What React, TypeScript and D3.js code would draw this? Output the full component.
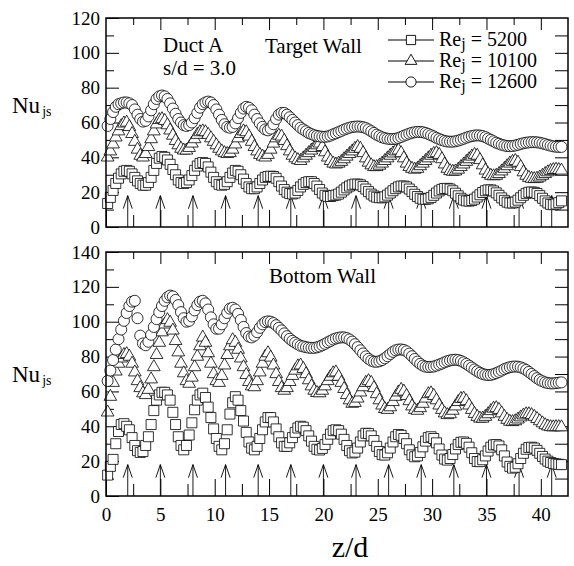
import React, { useEffect, useRef } from 'react';
import * as d3 from 'd3';

// measurement stations: z/d = 0.15, 0.40, ... 41.90 (step 0.25)
const zStart = 0.15;
const zStep = 0.25;

// Target wall, Nu_js
const targetRe5200 = [
  13.5, 17, 21, 25, 28, 30.5, 32, 32.5, 32, 30.5, 28.5, 26.5,
  25, 24, 24, 25.5, 28.5, 32.5, 36.5, 39.5, 40.5, 40, 38.5, 36,
  33, 30, 27, 25.5, 25, 25.5, 27, 29.5, 32.5, 35, 36.5, 37,
  36.5, 34.5, 31.5, 28.5, 26, 24.5, 24, 24.5, 26, 28.5, 31, 32.5,
  32, 30, 27.5, 25, 23, 22, 22, 23, 25, 27, 28.5, 29,
  29.2, 29, 28, 26, 23.5, 21.5, 20, 19.2, 19, 19.5, 21, 23,
  24.5, 25.5, 26, 26, 25, 23.5, 21.5, 19.5, 18.2, 17.6, 17.5, 18,
  18.3, 18.9, 20, 21.3, 22.5, 23.5, 24.2, 24.6, 24.6, 24.2, 23.2, 21.8,
  20.3, 18.9, 17.8, 17.1, 16.8, 16.8, 17.3, 18.3, 19.5, 20.8, 22, 23,
  23.5, 23.5, 23, 21.8, 20.3, 18.8, 17.5, 16.5, 16, 15.9, 16.2, 17,
  18.2, 19.5, 20.7, 21.6, 22.1, 22.2, 21.8, 20.8, 19.4, 17.9, 16.5, 15.5,
  15, 14.9, 15.2, 16, 17.2, 18.5, 19.8, 20.8, 21.3, 21.3, 20.7, 19.6,
  18.2, 16.7, 15.3, 14.3, 13.8, 13.8, 14.3, 15.4, 16.8, 18.2, 19.3, 19.9,
  20.1, 19.9, 19.2, 18, 16.5, 15, 13.8, 13, 12.8, 13.2, 14, 15,
];
const targetRe10100 = [
  40, 43.5, 47.5, 51.5, 55, 58, 59.5, 60, 57.5, 53.5, 49, 44.5,
  41, 40, 42, 46, 50.5, 55, 59, 61.5, 62, 61, 58.5, 55.5,
  52.5, 49.5, 47, 45, 44, 44, 45.5, 48, 50.5, 53, 54.5, 55,
  54.5, 53, 51, 49, 47, 45, 43.5, 42.5, 42, 42.5, 44.5, 47.5,
  51, 53.5, 55, 54.5, 52, 49, 46, 43.5, 41.5, 40.5, 40, 41.5,
  44.5, 48, 51, 52.5, 52, 49.5, 46.5, 43.5, 41, 39.5, 38.5, 38,
  39.5, 41, 42.5, 44, 45.5, 47, 48, 46, 43, 40, 38, 36.5,
  36, 36.5, 37.5, 39, 40.5, 42, 43.5, 45, 46, 45, 42.5, 39.5,
  37, 35.5, 34.5, 34.5, 35.3, 36.5, 38, 39.5, 41, 42.3, 43.5, 44,
  42.5, 39.5, 36.5, 34.5, 33.5, 33, 33.5, 35, 36.5, 38, 39.5, 41,
  42, 42.5, 41.5, 39, 36, 33.5, 32.2, 31.8, 32, 33, 34.5, 36,
  37.5, 39, 40.5, 41.5, 41, 38.5, 35.5, 32.5, 30.5, 29.5, 29.2, 29.5,
  30.5, 32, 33.5, 35, 36.5, 37.5, 38, 37, 34.5, 31.5, 29.5, 28.3,
  27.8, 27.6, 27.8, 28.5, 29.5, 30.5, 31.5, 32.3, 32.8, 33, 32.8, 32.5,
];
const targetRe12600 = [
  58, 62, 66, 69, 70.5, 71, 71.5, 71.5, 71, 70, 67.5, 64.5,
  62, 60.5, 61, 63.5, 67, 70.5, 73.5, 75, 75.5, 75, 73.5, 71,
  68, 65, 62, 60, 58.5, 58, 58.5, 60, 62.5, 65.5, 68.5, 70.5,
  71.5, 72, 71.5, 70, 67.5, 64.5, 61.5, 59, 57.5, 57, 57.5, 59.5,
  62.5, 65.5, 68, 69, 68.5, 67, 64.5, 62, 59.5, 57.5, 56, 55.5,
  56.5, 59, 62, 64.5, 65.5, 65.5, 64.5, 63, 61.5, 60, 58.5, 57,
  56, 55, 54, 53.3, 52.7, 52.3, 52, 51.8, 51.8, 52, 52.5, 53.2,
  53.8, 54.5, 55.2, 55.9, 56.5, 57, 57.4, 57.6, 57.7, 57.6, 57.3, 56.8,
  56, 55, 54, 53, 52.2, 51.5, 51, 50.7, 50.5, 50.5, 50.7, 51.1,
  51.7, 52.4, 53, 53.6, 54.1, 54.4, 54.6, 54.6, 54.4, 54, 53.4, 52.7,
  52, 51.2, 50.5, 49.9, 49.4, 49.1, 49, 49, 49.2, 49.6, 50.1, 50.7,
  51.3, 51.8, 52.2, 52.5, 52.6, 52.5, 52.2, 51.6, 50.8, 50, 49.2, 48.4,
  47.8, 47.2, 46.8, 46.5, 46.4, 46.5, 46.8, 47.2, 47.7, 48.1, 48.4, 48.6,
  48.7, 48.7, 48.6, 48.4, 48, 47.6, 47.1, 46.7, 46.3, 46.1, 46, 46,
];

// Bottom wall, Nu_js
const bottomRe5200 = [
  12, 17, 21, 30, 37, 41, 41.5, 40, 38, 33.5, 29, 26,
  25, 25.5, 29, 34, 41, 49, 55, 58, 59.5, 59.5, 58, 55,
  48, 41, 34, 29, 26.5, 29, 35, 42, 49.5, 55, 58, 59,
  56.5, 51, 45, 38.5, 33, 28.5, 26.5, 30, 38, 47, 53.5, 57,
  55, 49, 43, 36.5, 31, 27.5, 26.5, 28.5, 33, 38, 42.5, 45,
  45, 42.5, 38.5, 34, 30.5, 28.5, 28.5, 30.5, 33.5, 36.5, 39, 40,
  39.5, 37.5, 34.5, 31.5, 28.5, 26.8, 26.4, 27.3, 29.5, 32.5, 35.5, 37.5,
  38, 37.5, 35.5, 32.5, 29, 26, 24.7, 25.2, 27.5, 31, 34.5, 36,
  35.8, 34.5, 31.8, 28.5, 25.5, 23.7, 23.5, 24.8, 27.5, 31, 34, 35.3,
  34.8, 33, 30, 26.5, 23.6, 22.5, 23, 25, 28.2, 31.5, 33.5, 34,
  33, 30.5, 27, 23.5, 21.2, 20.6, 21.5, 23.8, 27, 29.5, 30.8, 31,
  30.2, 28, 24.8, 21.5, 19.8, 19.7, 20.8, 23, 25.8, 28, 29.3, 29.5,
  28.7, 26.5, 23, 19.5, 17, 16, 16.5, 18.5, 21.5, 24.5, 26.8, 27.8,
  28, 27.5, 26.2, 24.5, 22.7, 21.2, 20, 19.2, 18.7, 18.4, 18.2, 18,
];
const bottomRe10100 = [
  48, 57, 65, 71.5, 76, 79, 81, 81.5, 80, 76, 71, 66,
  62, 59, 58, 61, 67, 74, 81, 88, 94, 98.5, 101, 99.5,
  95, 89, 82.5, 76, 70.5, 66, 64.5, 68, 74, 80, 86, 91,
  88, 82, 76, 70, 66, 65, 69, 75, 81, 86, 89.5, 88,
  84, 79, 74, 69.5, 65.5, 63, 62.5, 66, 71, 76, 80, 82,
  79.5, 75, 70, 65.5, 62, 60.5, 62, 65.5, 69, 72, 74.5, 75,
  73, 70, 66.5, 63, 60.5, 59.2, 59, 60.5, 63, 66, 68.5, 70.5,
  71, 68.5, 65, 61.5, 58, 55, 53, 53.5, 56, 59.5, 62.5, 65,
  66, 65, 62, 58.5, 55, 52, 50, 49.5, 51, 54, 57, 59.5,
  61, 60, 57.5, 54.5, 51.5, 49.5, 49, 50.5, 53, 56, 58.5, 59,
  57.5, 55, 52, 49.5, 47.5, 46.5, 47, 49, 51.5, 54, 55.8, 56,
  54.5, 52, 49.5, 47.2, 45.5, 44.5, 44.5, 45.5, 47, 48.8, 50.2, 50.5,
  49.5, 47.5, 45.5, 43.8, 42.7, 42.5, 43, 44, 45.2, 46.3, 47, 47,
  46.5, 45.5, 44.3, 43, 41.8, 40.7, 40, 39.6, 39.5, 39.6, 39.6, 39.5,
];
const bottomRe12600 = [
  66, 72, 78, 84, 90, 95.5, 100.5, 105, 109, 111.5, 112, 102,
  92, 87.5, 86.5, 88.5, 92.5, 97, 101.5, 105.5, 109, 112, 114, 115,
  114.5, 112.5, 109.5, 105.5, 102, 100, 100.5, 103, 106.5, 109.5, 111.5, 112,
  110.5, 107, 102.5, 98.5, 96, 96, 98.5, 102, 105, 107.5, 108, 107,
  104.5, 101, 97, 93.5, 91.5, 91, 92, 94, 96.5, 98.5, 99.8, 100.2,
  100, 99.2, 98, 96.5, 95, 93.3, 91.7, 90.2, 89, 88, 87, 86.2,
  85.8, 85.4, 85.1, 85, 85, 85.3, 85.8, 86.5, 87.3, 88.2, 89, 89.8,
  90.4, 90.8, 91, 91, 90.6, 89.8, 88.6, 87.1, 85.4, 83.6, 81.8, 80.1,
  78.7, 77.7, 77.1, 77, 77.3, 78, 79, 80.2, 81.5, 82.7, 83.6, 84,
  84.1, 83.8, 83, 81.7, 80.2, 78.6, 77.1, 75.8, 74.8, 74.2, 74, 74.1,
  74.3, 74.8, 75.4, 76, 76.7, 77.3, 77.8, 78.1, 78.2, 78, 77.5, 76.7,
  75.8, 74.8, 73.7, 72.6, 71.6, 70.7, 70, 69.6, 69.4, 69.5, 69.9, 70.5,
  71.2, 72, 72.8, 73.4, 73.9, 74.2, 74.3, 74.2, 73.8, 73.2, 72.3, 71.2,
  70, 68.8, 67.6, 66.6, 65.8, 65.2, 64.8, 64.6, 64.6, 64.8, 65, 65.2,
];

// jet impingement locations (arrows)
const jetPositions = [2, 5, 8, 11, 14, 17, 20, 23, 26, 29, 32, 35, 38, 41];

const xMajorTicks = [0, 5, 10, 15, 20, 25, 30, 35, 40];
const xMinorTicks = [2.5, 7.5, 12.5, 17.5, 22.5, 27.5, 32.5, 37.5];
const topYTicks = [0, 20, 40, 60, 80, 100, 120];
const bottomYTicks = [0, 20, 40, 60, 80, 100, 120, 140];
const legendRe = ['5200', '10100', '12600'];

const FONT = "'Liberation Serif', 'DejaVu Serif', serif";

const App = () => {
  const ref = useRef<SVGSVGElement>(null);

  useEffect(() => {
    const svg = d3.select(ref.current);
    svg.selectAll('*').remove();

    const x = d3.scaleLinear().domain([0, 42.5]).range([106, 568]);
    const x0 = x(0);
    const x1 = x(42.5);

    const shapes = [d3.symbolSquare, d3.symbolTriangle, d3.symbolCircle];
    const sizes = [100, 70, 96];

    const drawPanel = (yMax: number, yTop: number, yBottom: number, series: number[][], yTicks: number[], xLabels: boolean) => {
      const y = d3.scaleLinear().domain([0, yMax]).range([yBottom, yTop]);
      const g = svg.append('g');
      const tens = d3.range(0, yMax + 1, 10);
      const minors = tens.filter(v => v % 20 !== 0);

      const styleAxis = (a: any) => {
        a.select('.domain').remove();
        a.attr('font-family', null).attr('font-size', null);
        a.selectAll('line').attr('stroke', '#000').attr('stroke-width', 1);
        a.selectAll('text').style('font-family', FONT).style('font-size', '19px').attr('fill', '#000');
      };

      g.append('g').attr('transform', `translate(${x0},0)`)
        .call(d3.axisLeft(y).tickValues(yTicks).tickSize(-13).tickPadding(6)).call(styleAxis);
      g.append('g').attr('transform', `translate(${x0},0)`)
        .call(d3.axisLeft(y).tickValues(minors).tickSize(-8).tickFormat(() => '')).call(styleAxis);
      g.append('g').attr('transform', `translate(${x1},0)`)
        .call(d3.axisRight(y).tickValues(tens.slice(1, -1)).tickSize(-13).tickFormat(() => '')).call(styleAxis);
      g.append('g').attr('transform', `translate(0,${yTop})`)
        .call(d3.axisTop(x).tickValues(xMajorTicks.slice(1)).tickSize(-12).tickFormat(() => '')).call(styleAxis);
      g.append('g').attr('transform', `translate(0,${yTop})`)
        .call(d3.axisTop(x).tickValues(xMinorTicks).tickSize(-7).tickFormat(() => '')).call(styleAxis);
      g.append('g').attr('transform', `translate(0,${yBottom})`)
        .call(d3.axisBottom(x).tickValues(xMajorTicks).tickSize(-17).tickPadding(12)
          .tickFormat(xLabels ? (d: any) => String(d) : () => '')).call(styleAxis);
      g.append('g').attr('transform', `translate(0,${yBottom})`)
        .call(d3.axisBottom(x).tickValues(xMinorTicks).tickSize(-12).tickFormat(() => '')).call(styleAxis);

      // jet arrows
      const tipV = 18;
      const arrows = g.append('g').attr('stroke', '#000').attr('stroke-width', 0.9).attr('fill', 'none');
      jetPositions.forEach(z => {
        const ax = x(z);
        const ty = y(tipV);
        arrows.append('line').attr('x1', ax).attr('x2', ax).attr('y1', y(0)).attr('y2', ty);
        arrows.append('path').attr('d', `M${ax - 4.5},${ty + 13}L${ax},${ty}L${ax + 4.5},${ty + 13}`);
      });

      // data markers, white filled and drawn in order
      series.forEach((vals, si) => {
        const sym = d3.symbol().type(shapes[si]).size(sizes[si]);
        g.append('g').selectAll('path').data(vals).join('path')
          .attr('transform', (v, i) => `translate(${x(zStart + zStep * i)},${y(v)})`)
          .attr('d', sym() as string)
          .attr('fill', '#fff').attr('stroke', '#000').attr('stroke-width', 0.8);
      });

      g.append('rect').attr('x', x0).attr('y', yTop).attr('width', x1 - x0).attr('height', yBottom - yTop)
        .attr('fill', 'none').attr('stroke', '#000').attr('stroke-width', 1.5);

      return y;
    };

    drawPanel(120, 18, 227, [targetRe5200, targetRe10100, targetRe12600], topYTicks, false);
    drawPanel(140, 252, 496, [bottomRe5200, bottomRe10100, bottomRe12600], bottomYTicks, true);

    // legend
    const lg = svg.append('g');
    legendRe.forEach((re, i) => {
      const ly = 40 + i * 21;
      lg.append('line').attr('x1', 388).attr('x2', 434).attr('y1', ly).attr('y2', ly).attr('stroke', '#000').attr('stroke-width', 1);
      lg.append('path').attr('transform', `translate(411,${ly})`)
        .attr('d', d3.symbol().type(shapes[i]).size(sizes[i] * 0.85)() as string)
        .attr('fill', '#fff').attr('stroke', '#000').attr('stroke-width', 0.9);
      const t = lg.append('text').attr('x', 439).attr('y', ly + 6).style('font-family', FONT).style('font-size', '20px');
      t.append('tspan').text('Re');
      t.append('tspan').style('font-size', '16px').attr('dy', 3).text('j');
      t.append('tspan').attr('dy', -3).text(` = ${re}`);
    });

    const label = (tx: number, ty: number, txt: string, size: number, anchor = 'start') =>
      svg.append('text').attr('x', tx).attr('y', ty).style('font-family', FONT).style('font-size', `${size}px`)
        .attr('text-anchor', anchor).text(txt);

    label(163, 52, 'Duct A', 21);
    label(163, 75, 's/d = 3.0', 21);
    label(265, 53, 'Target Wall', 21);
    label(269, 283, 'Bottom Wall', 21);
    label(350, 557, 'z/d', 30, 'middle');

    [113, 382].forEach(ny => {
      const t = svg.append('text').attr('x', 12).attr('y', ny).style('font-family', FONT).style('font-size', '23px');
      t.append('tspan').text('Nu');
      t.append('tspan').style('font-size', '14px').attr('dy', 3).attr('dx', 2).text('js');
    });
  }, []);

  return (
    <svg ref={ref} width={574} height={566} style={{ position: 'absolute', left: 0, top: 0, background: '#fff' }} />
  );
};

export default App;
